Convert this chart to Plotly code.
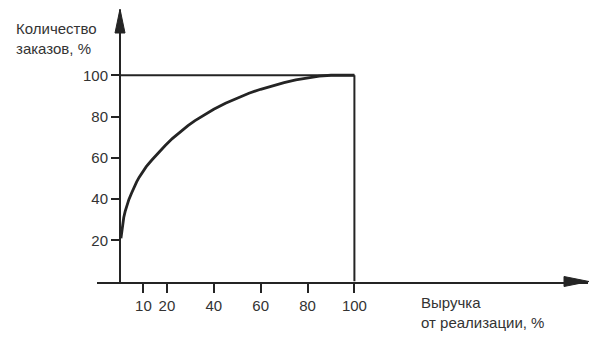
import plotly.graph_objects as go

# Data
curve_x = [0.4, 0.7, 1.1, 1.6, 2.2, 2.8, 3.8, 5, 6, 7.1, 8.2, 9.3, 11.2, 13.5, 16.2, 19.2, 22.3, 25.6,
           29, 32, 36, 40, 45, 50, 55, 60, 65, 70, 75, 80, 85, 90, 95, 100]
curve_y = [21, 24, 27.6, 31, 34, 36.4, 39.8, 43, 45.7, 48.3, 50.6, 52.7, 55.7, 58.8, 62.2, 65.8, 69.3, 72.6,
           75.6, 78.0, 80.9, 83.5, 86.4, 89.0, 91.3, 93.2, 94.9, 96.4, 97.7, 98.8, 99.6, 100, 100, 100]
box_top_x = [0, 100]
box_top_y = [100, 100]
box_right_x = [100, 100]
box_right_y = [0, 100]
x_ticks = [10, 20, 40, 60, 80, 100]
y_ticks = [20, 40, 60, 80, 100]
y_title = "Количество<br>заказов, %"
x_title = "Выручка<br>от реализации, %"

W, H = 603, 347
ink = "#242424"
font = "Liberation Sans, Arial, sans-serif"

fig = go.Figure()
fig.add_trace(go.Scatter(x=box_top_x, y=box_top_y, mode="lines",
                         line=dict(color=ink, width=2), hoverinfo="skip"))
fig.add_trace(go.Scatter(x=box_right_x, y=box_right_y, mode="lines",
                         line=dict(color=ink, width=2), hoverinfo="skip"))
fig.add_trace(go.Scatter(x=curve_x, y=curve_y, mode="lines",
                         line=dict(color=ink, width=2.8, shape="linear"),
                         hoverinfo="skip"))

# pixel geometry
x0_px, x_left_px, x_right_px = 120.0, 96.5, 588.0
x_scale = 2.344
y0_px, y_top_px = 281.5, 10.0
y_scale = 2.0625

fig.update_layout(
    width=W, height=H, autosize=False,
    margin=dict(l=0, r=0, t=0, b=0, pad=0),
    paper_bgcolor="white", plot_bgcolor="white",
    showlegend=False,
    font=dict(family=font, size=15, color="#333333"),
    xaxis=dict(
        domain=[x_left_px / W, x_right_px / W],
        range=[(x_left_px - x0_px) / x_scale, (x_right_px - x0_px) / x_scale],
        anchor="y", showgrid=False, zeroline=False,
        showline=True, linecolor=ink, linewidth=2,
        tickmode="array", tickvals=x_ticks, ticktext=[str(v) for v in x_ticks],
        ticks="outside", ticklen=9, tickwidth=2, tickcolor=ink,
        tickfont=dict(family=font, size=15, color="#333333"),
    ),
    yaxis=dict(
        domain=[1 - y0_px / H, 1 - y_top_px / H],
        range=[0, (y0_px - y_top_px) / y_scale],
        anchor="free", position=x0_px / W, showgrid=False, zeroline=False,
        showline=True, linecolor=ink, linewidth=2,
        tickmode="array", tickvals=y_ticks, ticktext=[str(v) for v in y_ticks],
        ticks="outside", ticklen=8, tickwidth=2, tickcolor=ink,
        tickfont=dict(family=font, size=15, color="#333333"),
    ),
)

def px(xp, yp):
    return xp / W, 1 - yp / H

# arrow heads
ax1 = [px(120, 9), px(115, 33), px(125, 33)]
ax2 = [px(589, 281.5), px(564, 276.5), px(564, 286.5)]
for tri in (ax1, ax2):
    path = "M {} {} L {} {} L {} {} Z".format(tri[0][0], tri[0][1], tri[1][0], tri[1][1], tri[2][0], tri[2][1])
    fig.add_shape(type="path", path=path, xref="paper", yref="paper",
                  fillcolor=ink, line=dict(color=ink, width=1))

fig.add_annotation(text=y_title, xref="paper", yref="paper",
                   x=14 / W, y=1 - 18 / H, xanchor="left", yanchor="top",
                   align="left", showarrow=False,
                   font=dict(family=font, size=15, color="#333333"))
fig.add_annotation(text=x_title, xref="paper", yref="paper",
                   x=419 / W, y=1 - 292 / H, xanchor="left", yanchor="top",
                   align="left", showarrow=False,
                   font=dict(family=font, size=15, color="#333333"))

fig.write_html("out.html", config={"displayModeBar": False})
